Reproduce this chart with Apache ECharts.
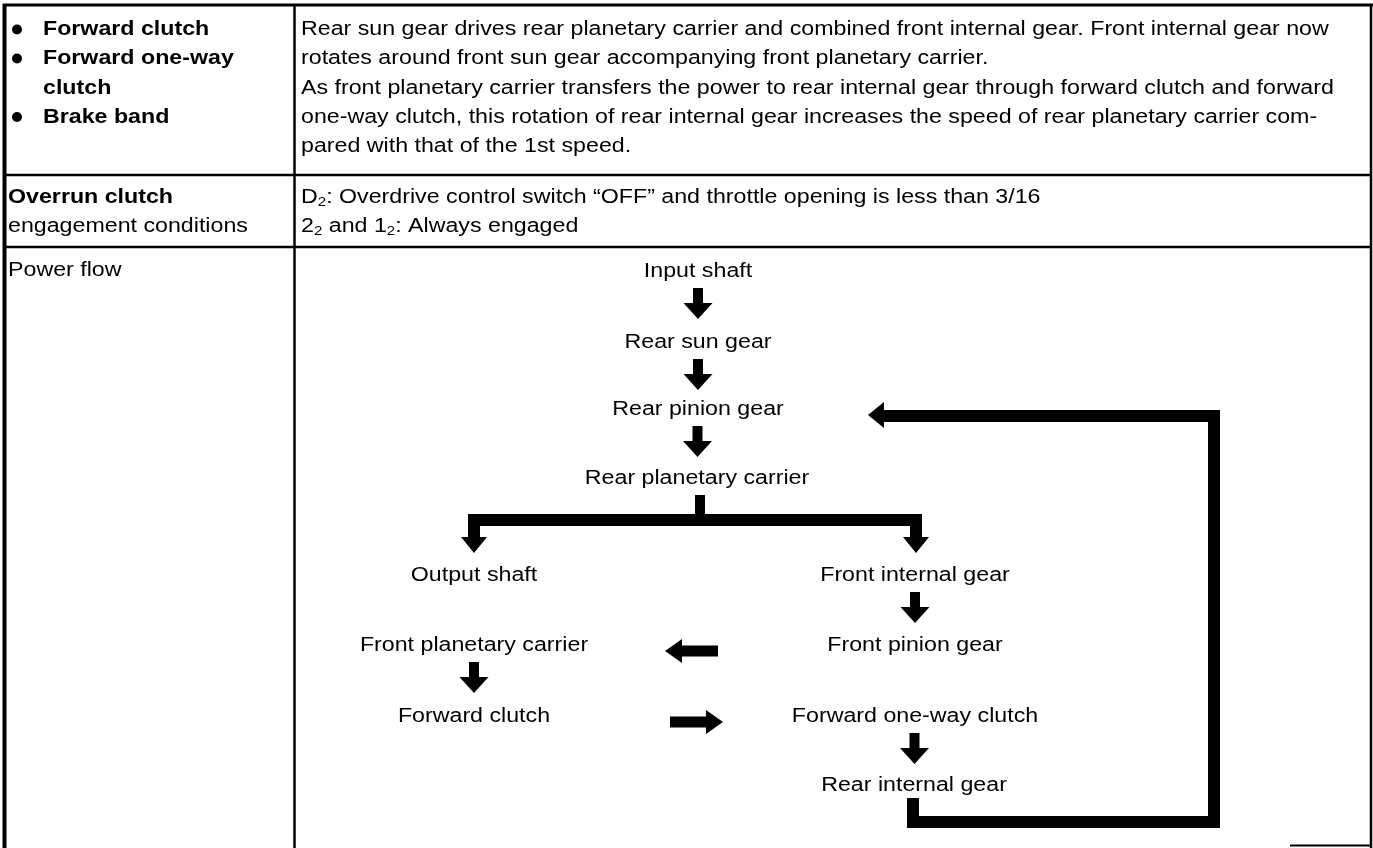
<!DOCTYPE html>
<html>
<head>
<meta charset="utf-8">
<script src="https://cdn.jsdelivr.net/npm/echarts/dist/echarts.min.js"></script>
<style>
  html, body { margin: 0; padding: 0; background: #fff; }
  #chart { width: 1373px; height: 848px; }
</style>
</head>
<body>
<div id="chart"></div>
<script>
// ---- Content (text data) ----
const conditionItems = [['Forward clutch'], ['Forward one-way', 'clutch'], ['Brake band']];
const descriptionLines = [
  'Rear sun gear drives rear planetary carrier and combined front internal gear. Front internal gear now',
  'rotates around front sun gear accompanying front planetary carrier.',
  'As front planetary carrier transfers the power to rear internal gear through forward clutch and forward',
  'one-way clutch, this rotation of rear internal gear increases the speed of rear planetary carrier com-',
  'pared with that of the 1st speed.'
];
const overrunHeader = ['Overrun clutch', 'engagement conditions'];
const overrunLines = [
  'D₂: Overdrive control switch “OFF” and throttle opening is less than 3/16',
  '2₂ and 1₂: Always engaged'
];
const powerFlowLabel = 'Power flow';
const flowNodes = [
  'Input shaft', 'Rear sun gear', 'Rear pinion gear', 'Rear planetary carrier',
  'Output shaft', 'Front internal gear', 'Front pinion gear',
  'Front planetary carrier', 'Forward clutch', 'Forward one-way clutch', 'Rear internal gear'
];
const flowLinks = [
  ['Input shaft', 'Rear sun gear'],
  ['Rear sun gear', 'Rear pinion gear'],
  ['Rear pinion gear', 'Rear planetary carrier'],
  ['Front internal gear', 'Front pinion gear'],
  ['Front planetary carrier', 'Forward clutch'],
  ['Forward one-way clutch', 'Rear internal gear']
];

// ---- Layout (separate from data) ----
const nodePos = {
  'Input shaft': [698, 271],
  'Rear sun gear': [698, 342],
  'Rear pinion gear': [698, 409],
  'Rear planetary carrier': [697, 478],
  'Output shaft': [474, 575],
  'Front internal gear': [915, 575],
  'Front planetary carrier': [474, 645],
  'Front pinion gear': [915, 645],
  'Forward clutch': [474, 716],
  'Forward one-way clutch': [915, 716],
  'Rear internal gear': [914, 785]
};
const FONT = '"Liberation Sans", Arial, Helvetica, sans-serif';
const SX = 1.16;
const FS = 20;

function txt(str, x, y, align, bold) {
  return {
    type: 'text', x: x, y: y, scaleX: SX, z: 10,
    style: {
      text: str, fontSize: FS, fontFamily: FONT, fontWeight: bold ? 'bold' : 'normal',
      fill: '#000', align: align || 'left', textAlign: align || 'left',
      verticalAlign: 'middle', textVerticalAlign: 'middle'
    }
  };
}
const subMap = {'₀':'0','₁':'1','₂':'2','₃':'3','₄':'4','₅':'5','₆':'6','₇':'7','₈':'8','₉':'9'};
function richTxt(str, x, y) {
  let out = '', buf = '';
  for (const ch of str) {
    if (subMap[ch]) {
      if (buf) { out += '{n|' + buf + '}'; buf = ''; }
      out += '{s|' + subMap[ch] + '}';
    } else buf += ch;
  }
  if (buf) out += '{n|' + buf + '}';
  return {
    type: 'text', x: x, y: y, scaleX: SX, z: 10,
    style: {
      text: out, fill: '#000', align: 'left', textAlign: 'left',
      verticalAlign: 'middle', textVerticalAlign: 'middle',
      rich: {
        n: { fontSize: FS, fontFamily: FONT, lineHeight: 24, fill: '#000' },
        s: { fontSize: 13, fontFamily: FONT, lineHeight: 14, verticalAlign: 'bottom', fill: '#000' }
      }
    }
  };
}
function line(x1, y1, x2, y2, w) {
  return { type: 'line', shape: { x1, y1, x2, y2 }, style: { stroke: '#000', lineWidth: w, lineCap: 'butt' } };
}
function poly(points) {
  return { type: 'polygon', shape: { points }, style: { fill: '#000', stroke: null } };
}
function polyline(points, w) {
  return { type: 'polyline', shape: { points }, style: { stroke: '#000', lineWidth: w, lineJoin: 'miter', lineCap: 'butt', fill: null } };
}
function downArrow(cx, top) {
  const len = 31, sw = 10, hw = 29, hl = 16;
  const hy = top + len - hl;
  return poly([[cx - sw / 2, top], [cx + sw / 2, top], [cx + sw / 2, hy], [cx + hw / 2, hy],
    [cx, top + len], [cx - hw / 2, hy], [cx - sw / 2, hy]]);
}
function hArrow(tipX, tailX, cy) {
  const sh = 11, hh = 24, hl = 17;
  const d = tailX > tipX ? 1 : -1;
  const hx = tipX + d * hl;
  return poly([[tipX, cy], [hx, cy - hh / 2], [hx, cy - sh / 2], [tailX, cy - sh / 2],
    [tailX, cy + sh / 2], [hx, cy + sh / 2], [hx, cy + hh / 2]]);
}

const g = [];
// table lines
g.push(line(3, 5, 1373, 5, 3));
g.push(line(4.5, 4, 4.5, 848, 4));
g.push(line(294.5, 5, 294.5, 848, 2.5));
g.push(line(1371, 5, 1371, 848, 2.5));
g.push(line(4, 175, 1371, 175, 2.5));
g.push(line(4, 247, 1371, 247, 2.5));
g.push(line(1290, 845.5, 1371, 845.5, 2));

// row 1
const rowY = [29.5, 58.5, 88, 117, 146];
let li = 0;
conditionItems.forEach(item => {
  item.forEach((s, k) => {
    if (k === 0) g.push({ type: 'circle', shape: { cx: 17, cy: rowY[li], r: 5 }, style: { fill: '#000' } });
    g.push(txt(s, 43, rowY[li], 'left', true));
    li++;
  });
});
descriptionLines.forEach((s, i) => g.push(txt(s, 301, rowY[i], 'left', false)));

// row 2
const row2Y = [197, 226];
overrunHeader.forEach((s, i) => g.push(txt(s, 8, row2Y[i], 'left', i === 0)));
overrunLines.forEach((s, i) => g.push(richTxt(s, 301, row2Y[i])));

// row 3
g.push(txt(powerFlowLabel, 8, 270, 'left', false));

flowNodes.forEach(n => g.push(txt(n, nodePos[n][0], nodePos[n][1], 'center', false)));
flowLinks.forEach(([a, b]) => {
  const pa = nodePos[a], pb = nodePos[b];
  const top = pa[1] + 17;
  g.push(downArrow((pa[0] + pb[0]) / 2, top));
});

// branch from rear planetary carrier
g.push({ type: 'rect', shape: { x: 695, y: 495, width: 10, height: 20 }, style: { fill: '#000' } });
g.push(polyline([[474, 538], [474, 520], [916, 520], [916, 538]], 12));
g.push(poly([[461, 537], [487, 537], [474, 553]]));
g.push(poly([[903, 537], [929, 537], [916, 553]]));

// horizontal arrows
g.push(hArrow(665, 718, 651));
g.push(hArrow(723, 670, 722));

// feedback loop
g.push(polyline([[913, 798], [913, 822], [1214, 822], [1214, 416], [883, 416]], 12));
g.push(poly([[868, 415], [884, 402], [884, 428]]));

const chart = echarts.init(document.getElementById('chart'), null, { renderer: 'canvas' });
chart.setOption({
  backgroundColor: '#fff',
  animation: false,
  graphic: { elements: g }
});
</script>
</body>
</html>
